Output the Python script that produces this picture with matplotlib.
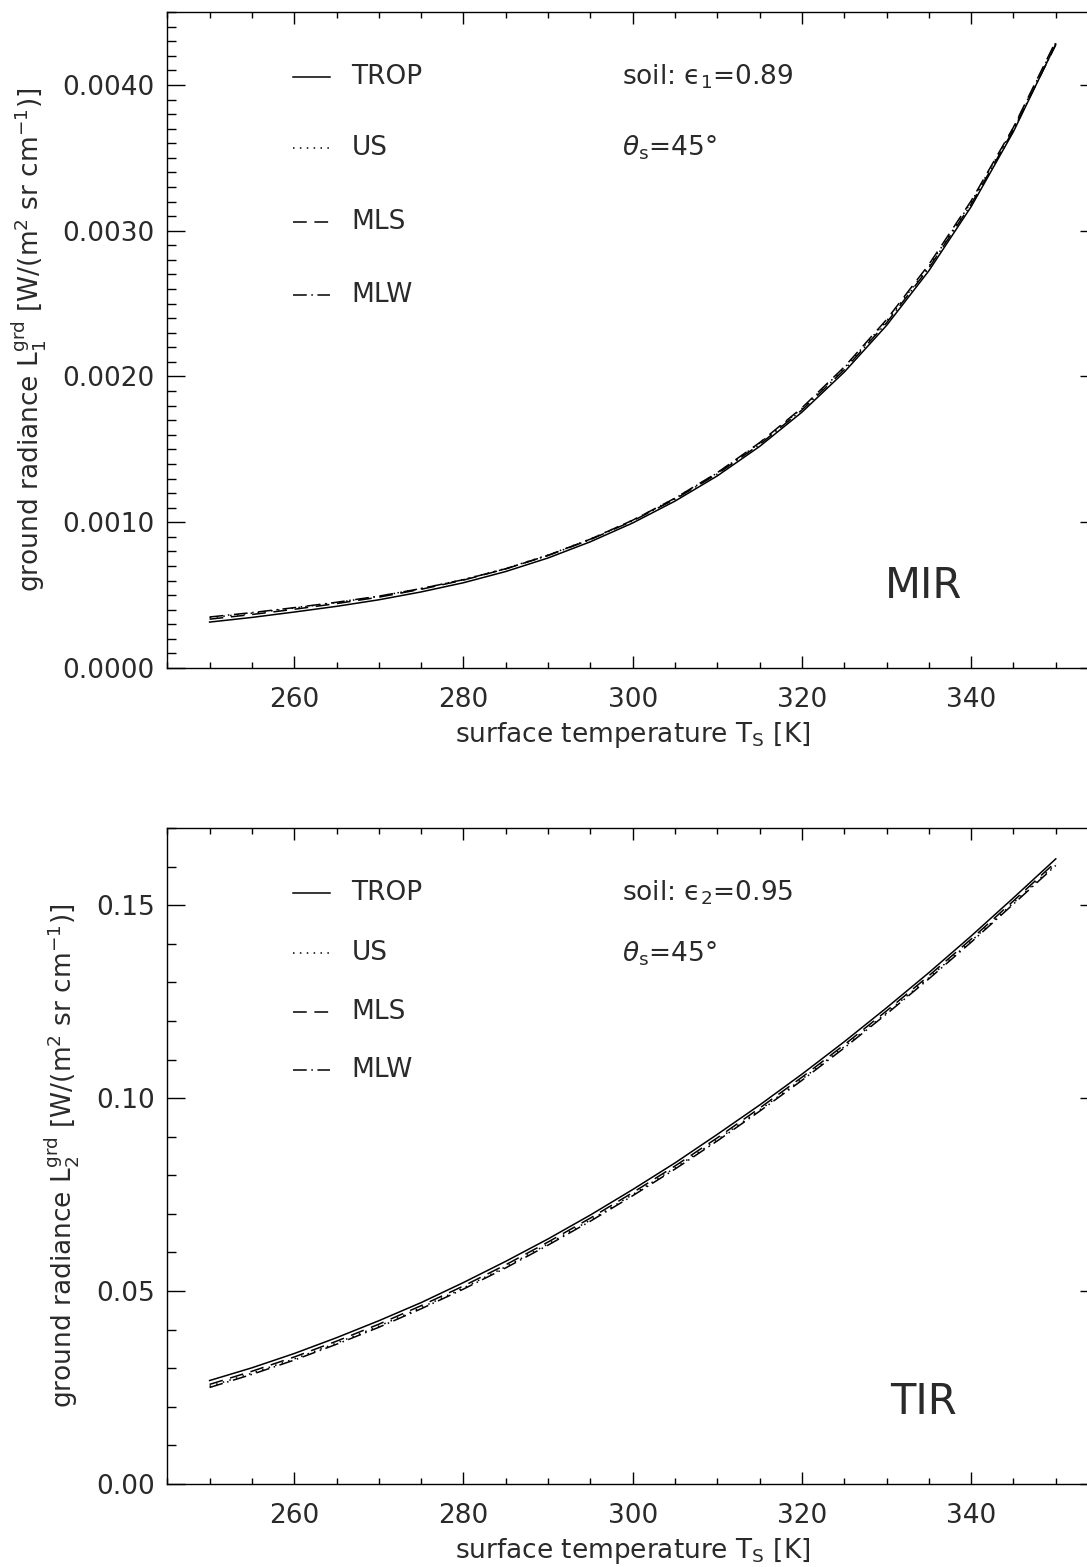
import numpy as np
import matplotlib
matplotlib.use("Agg")
import matplotlib.pyplot as plt
from matplotlib.ticker import MultipleLocator, FormatStrFormatter

plt.rcParams['font.family'] = ['DejaVu Sans']
plt.rcParams['mathtext.fontset'] = 'dejavusans'

# surface temperature grid [K]
ts = [250, 255, 260, 265, 270, 275, 280, 285, 290, 295, 300,
      305, 310, 315, 320, 325, 330, 335, 340, 345, 350]

# MIR channel ground radiance
mir_trop = [0.000315, 0.000347, 0.000384, 0.000423, 0.000468, 0.000522, 0.000585,
            0.000662, 0.000755, 0.000866, 0.000995, 0.001145, 0.001318, 0.001520,
            0.001755, 0.002030, 0.002350, 0.002725, 0.003165, 0.003680, 0.004280]
mir_us = [0.000345, 0.000376, 0.000411, 0.000449, 0.000492, 0.000545, 0.000607,
          0.000683, 0.000775, 0.000885, 0.001014, 0.001164, 0.001338, 0.001542,
          0.001780, 0.002058, 0.002380, 0.002755, 0.003195, 0.003705, 0.004290]
mir_mls = [0.000335, 0.000367, 0.000403, 0.000442, 0.000486, 0.000540, 0.000603,
           0.000680, 0.000773, 0.000884, 0.001014, 0.001165, 0.001340, 0.001546,
           0.001785, 0.002065, 0.002390, 0.002768, 0.003205, 0.003710, 0.004300]
mir_mlw = [0.000350, 0.000380, 0.000414, 0.000451, 0.000493, 0.000545, 0.000606,
           0.000681, 0.000772, 0.000881, 0.001009, 0.001158, 0.001331, 0.001533,
           0.001770, 0.002046, 0.002368, 0.002744, 0.003182, 0.003692, 0.004275]

# TIR channel ground radiance
tir_trop = [0.0268, 0.0301, 0.0338, 0.0379, 0.0423, 0.0470, 0.0522, 0.0577, 0.0635,
            0.0697, 0.0763, 0.0832, 0.0906, 0.0982, 0.1062, 0.1146, 0.1234, 0.1325,
            0.1420, 0.1519, 0.1620]
tir_us = [0.0253, 0.0287, 0.0324, 0.0365, 0.0409, 0.0457, 0.0508, 0.0563, 0.0622,
          0.0684, 0.0750, 0.0819, 0.0892, 0.0969, 0.1049, 0.1133, 0.1221, 0.1312,
          0.1407, 0.1506, 0.1607]
tir_mls = [0.0258, 0.0292, 0.0329, 0.0370, 0.0414, 0.0462, 0.0513, 0.0568, 0.0627,
           0.0689, 0.0755, 0.0824, 0.0897, 0.0974, 0.1054, 0.1138, 0.1226, 0.1317,
           0.1412, 0.1511, 0.1612]
tir_mlw = [0.0250, 0.0284, 0.0321, 0.0362, 0.0406, 0.0454, 0.0505, 0.0560, 0.0619,
           0.0681, 0.0747, 0.0816, 0.0889, 0.0966, 0.1046, 0.1130, 0.1218, 0.1309,
           0.1404, 0.1503, 0.1603]

names = ['TROP', 'US', 'MLS', 'MLW']
styles = ['-', (0, (1, 3.5)), (0, (9, 5)), (0, (9, 3, 1, 3))]

txt = '#2a2a2a'
fs = 19

fig = plt.figure(figsize=(10.87, 15.67), dpi=100)
ax1 = fig.add_axes([0.1539, 0.5737, 0.8563, 0.4186])
ax2 = fig.add_axes([0.1539, 0.0530, 0.8563, 0.4186])

panels = [
    (ax1, [mir_trop, mir_us, mir_mls, mir_mlw], 0.0045, 0.001, 0.0001, '%.4f',
     r'ground radiance L$_1^{\rm grd}$ [W/(m$^2$ sr cm$^{-1}$)]',
     'soil: ϵ$_1$=0.89', 'MIR', [0.901, 0.793, 0.680, 0.569]),
    (ax2, [tir_trop, tir_us, tir_mls, tir_mlw], 0.17, 0.05, 0.01, '%.2f',
     r'ground radiance L$_2^{\rm grd}$ [W/(m$^2$ sr cm$^{-1}$)]',
     'soil: ϵ$_2$=0.95', 'TIR', [0.901, 0.809, 0.720, 0.631]),
]

for ax, series, ymax, ymaj, ymin_, fmt, ylab, soil, band, rows in panels:
    for vals, ls in zip(series, styles):
        ax.plot(ts, vals, color='black', linestyle=ls, linewidth=1.1)
    ax.set_xlim(245, 355)
    ax.set_ylim(0, ymax)
    ax.xaxis.set_major_locator(MultipleLocator(20))
    ax.xaxis.set_minor_locator(MultipleLocator(5))
    ax.yaxis.set_major_locator(MultipleLocator(ymaj))
    ax.yaxis.set_minor_locator(MultipleLocator(ymin_))
    ax.yaxis.set_major_formatter(FormatStrFormatter(fmt))
    ax.tick_params(which='both', direction='in', top=True, right=True,
                   labelsize=fs, labelcolor=txt, width=1.0)
    ax.tick_params(axis='y', which='major', length=13, pad=9)
    ax.tick_params(axis='y', which='minor', length=6.5)
    ax.tick_params(axis='x', which='major', length=8.5, pad=14)
    ax.tick_params(axis='x', which='minor', length=4.5)
    for sp in ax.spines.values():
        sp.set_linewidth(1.0)
    ax.set_xlabel(r'surface temperature T$_{\rm S}$ [K]', fontsize=fs, color=txt, labelpad=5)
    ax.set_ylabel(ylab, fontsize=fs, color=txt, labelpad=10)

    # hand-made legend
    for name, ls, ry in zip(names, styles, rows):
        ax.plot([0.135, 0.175], [ry, ry], transform=ax.transAxes, color='black',
                linestyle=ls, linewidth=1.1)
        ax.text(0.198, ry, name, transform=ax.transAxes, fontsize=fs, color=txt,
                va='center', ha='left')
    ax.text(0.488, rows[0], soil, transform=ax.transAxes, fontsize=fs, color=txt,
            va='center', ha='left')
    ax.text(0.488, rows[1], r'$\theta_{\rm s}$=45°', transform=ax.transAxes, fontsize=fs,
            color=txt, va='center', ha='left')
    ax.text(0.812, 0.125, band, transform=ax.transAxes, fontsize=30, color=txt,
            va='center', ha='center')

fig.savefig('out.png', dpi=100)
